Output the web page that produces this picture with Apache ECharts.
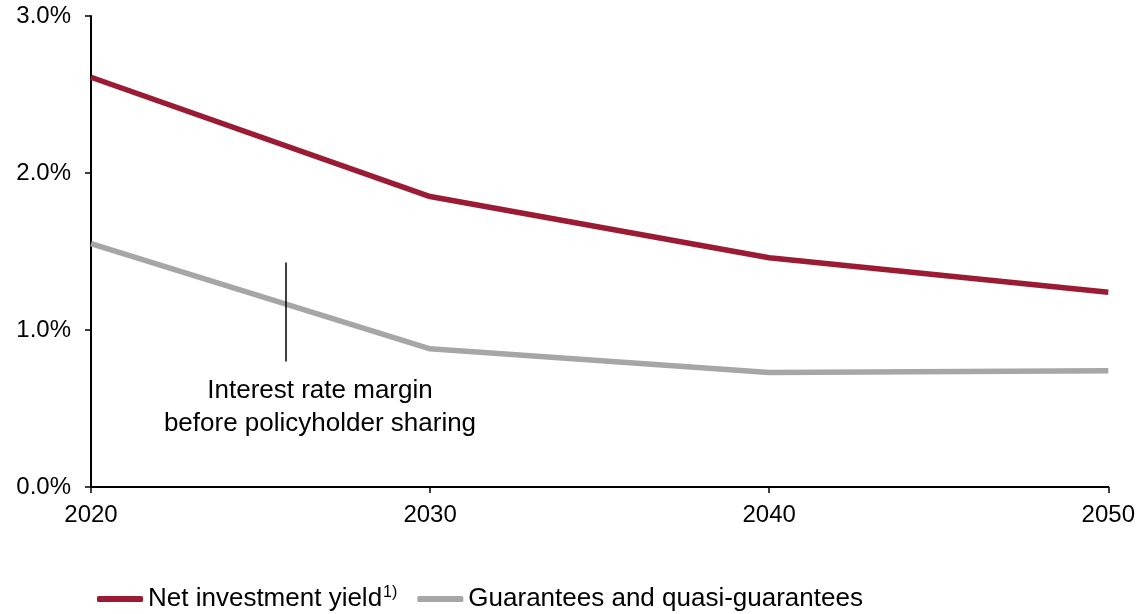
<!DOCTYPE html>
<html>
<head>
<meta charset="utf-8">
<script src="https://cdn.jsdelivr.net/npm/echarts@6/dist/echarts.min.js"></script>
<style>
  html, body { margin: 0; padding: 0; background: #fff; }
  #chart { width: 1138px; height: 614px; }
</style>
</head>
<body>
<div id="chart"></div>
<script>
// Yield outlook, percent
const years = [2020, 2030, 2040, 2050];
const netInvestmentYield = [2.61, 1.85, 1.46, 1.24];
const guarantees = [1.55, 0.88, 0.73, 0.74];
const yTicks = [0, 1, 2, 3];
const seriesNames = ['Net investment yield', 'Guarantees and quasi-guarantees'];
const marginLabel = ['Interest rate margin', 'before policyholder sharing'];
// Vertical marker spanning the gap between the two curves
const marginMarkerYear = 2025.75;
const marginMarkerRange = [0.8, 1.43];

const FONT = 'Liberation Sans, Arial, sans-serif';
const RED = '#9b1b34';
const GREY = '#a6a6a6';

const chart = echarts.init(document.getElementById('chart'), null, { renderer: 'canvas' });

const toPairs = (vals) => years.map((y, i) => [y, vals[i]]);

chart.setOption({
  animation: false,
  backgroundColor: '#fff',
  grid: { left: 91, right: 28, top: 16, bottom: 127, containLabel: false },
  xAxis: {
    type: 'value',
    min: 2020, max: 2050, interval: 10,
    axisLine: { show: true, lineStyle: { color: '#000', width: 2 } },
    axisTick: { show: true, length: 6, lineStyle: { color: '#000', width: 1.5 } },
    axisLabel: {
      color: '#000', fontFamily: FONT, fontSize: 24, margin: 16,
      formatter: (v) => String(v)
    },
    splitLine: { show: false }
  },
  yAxis: {
    type: 'value',
    min: yTicks[0], max: yTicks[yTicks.length - 1], interval: 1,
    axisLine: { show: true, lineStyle: { color: '#000', width: 2 } },
    axisTick: { show: true, length: 6, lineStyle: { color: '#000', width: 1.5 } },
    axisLabel: {
      color: '#000', fontFamily: FONT, fontSize: 24, margin: 20,
      formatter: (v) => v.toFixed(1) + '%'
    },
    splitLine: { show: false }
  },
  legend: {
    left: 92,
    top: 580,
    icon: 'roundRect',
    itemWidth: 46,
    itemHeight: 6,
    itemGap: 20,
    textStyle: {
      color: '#000', fontFamily: FONT, fontSize: 26,
      rich: {
        sup: { fontSize: 16, verticalAlign: 'top', padding: [0, 0, 12, 1], color: '#000', fontFamily: FONT }
      }
    },
    formatter: (name) => name === seriesNames[0] ? name + '{sup|1)}' : name,
    data: seriesNames
  },
  series: [
    {
      name: seriesNames[0],
      type: 'line',
      data: toPairs(netInvestmentYield),
      symbol: 'none',
      lineStyle: { color: RED, width: 5.5 },
      itemStyle: { color: RED },
      z: 3
    },
    {
      name: seriesNames[1],
      type: 'line',
      data: toPairs(guarantees),
      symbol: 'none',
      lineStyle: { color: GREY, width: 5.5 },
      itemStyle: { color: GREY },
      z: 2,
      markLine: {
        silent: true,
        symbol: 'none',
        label: { show: false },
        lineStyle: { color: '#000', width: 1.5, type: 'solid' },
        data: [[
          { coord: [marginMarkerYear, marginMarkerRange[0]] },
          { coord: [marginMarkerYear, marginMarkerRange[1]] }
        ]]
      }
    }
  ]
});

// Annotation text placed relative to the marker
const px = chart.convertToPixel({ gridIndex: 0 }, [marginMarkerYear, 0])[0];
chart.setOption({
  graphic: [{
    type: 'text',
    x: px + 34,
    y: 374,
    style: {
      text: marginLabel.join('\n'),
      fill: '#000',
      font: '26px ' + FONT,
      align: 'center',
      lineHeight: 33
    }
  }]
});
</script>
</body>
</html>
